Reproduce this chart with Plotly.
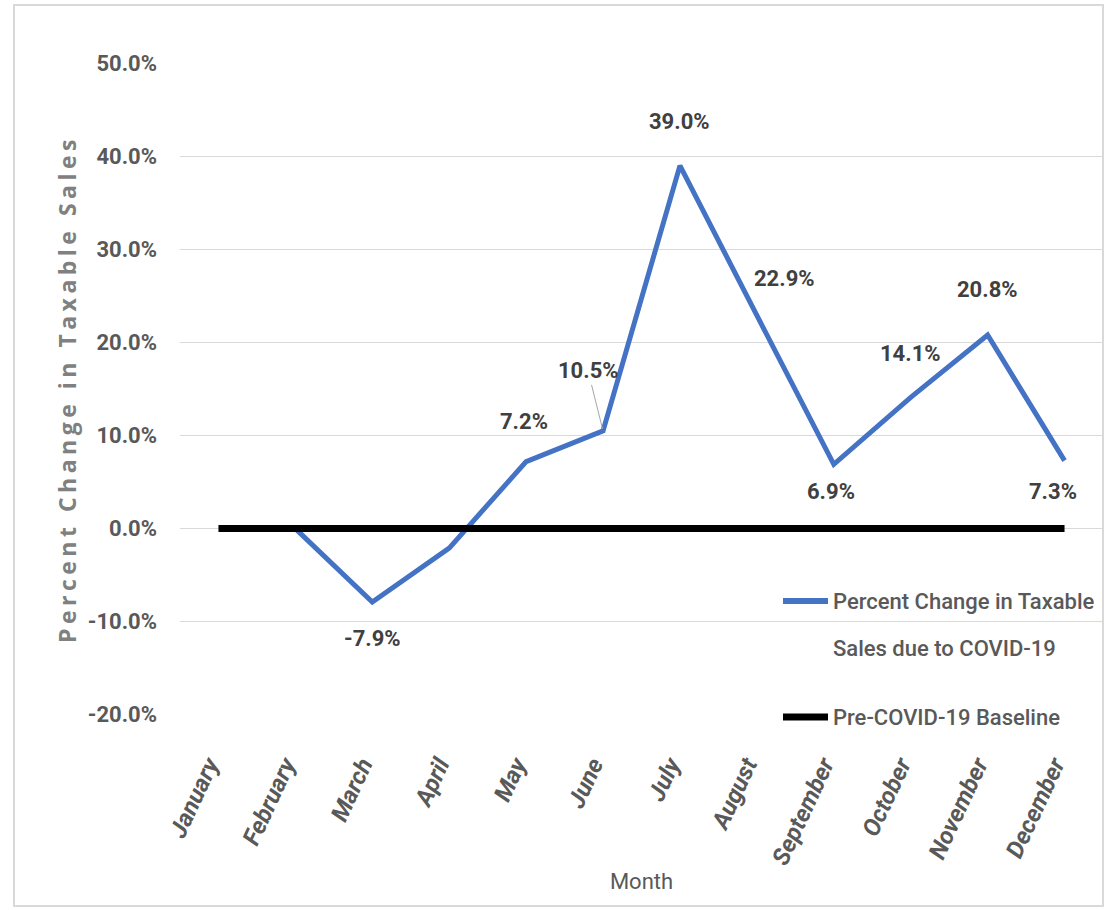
import plotly.graph_objects as go

# Monthly data
months = ["January", "February", "March", "April", "May", "June",
          "July", "August", "September", "October", "November", "December"]
pct_change = [None, 0.0, -7.9, -2.1, 7.2, 10.5, 39.0, 22.9, 6.9, 14.1, 20.8, 7.3]
baseline = [0.0] * 12
y_ticks = [50, 40, 30, 20, 10, 0, -10, -20]

series_names = ["Percent Change in Taxable<br>Sales due to COVID-19",
                "Pre-COVID-19 Baseline"]

# Label placement (pixel offsets from each point)
label_offsets = {
    "March": (0, -36),
    "May": (-2, 40),
    "July": (0, 44),
    "August": (28, 37),
    "September": (-3, -27),
    "October": (0, 44),
    "November": (0, 46),
    "December": (-12, -31),
}
leader_labels = {"June": (-15, -60)}  # label joined to its point by a thin line

FONT = "Roboto, sans-serif"
GREY = "#595959"
BLUE = "#4472C4"

# plot-area geometry (px)
W, H = 1105, 910
ML, MR, MT, MB = 180, 2, 63, 195
PW, PH = W - ML - MR, H - MT - MB


def px_x(px):
    return (px - ML) / PW


def px_y(py):
    return (H - MB - py) / PH


fig = go.Figure()
fig.add_trace(go.Scatter(
    x=months, y=pct_change, mode="lines", name=series_names[0],
    line=dict(color=BLUE, width=5), showlegend=False,
))
fig.add_trace(go.Scatter(
    x=months, y=baseline, mode="lines", name=series_names[1],
    line=dict(color="#000000", width=7), showlegend=False,
))

label_font = dict(family=FONT, size=22, color="#404040")
for m, v in zip(months, pct_change):
    if v is None:
        continue
    if m in label_offsets:
        dx, dy = label_offsets[m]
        fig.add_annotation(x=m, y=v, text=f"<b>{v:.1f}%</b>", showarrow=False,
                           xshift=dx, yshift=dy, font=label_font)
    elif m in leader_labels:
        ax, ay = leader_labels[m]
        fig.add_annotation(x=m, y=v, text=f"<b>{v:.1f}%</b>", showarrow=True,
                           ax=ax, ay=ay, arrowhead=0, arrowwidth=1,
                           arrowcolor="#a6a6a6", standoff=2, font=label_font)

# Legend, drawn beside the lower right of the plot
legend_rows = [
    (BLUE, 6, series_names[0].split("<br>"), 601),
    ("#000000", 7, [series_names[1]], 717),
]
for color, width, lines, ypx in legend_rows:
    fig.add_shape(type="line", xref="paper", yref="paper",
                  x0=px_x(783), x1=px_x(828), y0=px_y(ypx), y1=px_y(ypx),
                  line=dict(color=color, width=width))
    for i, txt in enumerate(lines):
        fig.add_annotation(xref="paper", yref="paper", x=px_x(831),
                           y=px_y(ypx + 47 * i), xanchor="left", yanchor="middle",
                           text=txt, showarrow=False,
                           font=dict(family=FONT, size=22, color=GREY, weight=500))

fig.update_layout(
    width=W, height=H,
    margin=dict(l=ML, r=MR, t=MT, b=MB),
    paper_bgcolor="white", plot_bgcolor="white",
    showlegend=False,
    xaxis=dict(
        type="category", range=[-0.5, 11.5],
        showgrid=False, showline=False, ticks="",
        tickangle=-65, ticklabelstandoff=30, ticklabelshift=-10,
        tickfont=dict(family=FONT, size=24, color=GREY),
        title=dict(text="Month", standoff=4,
                   font=dict(family=FONT, size=22, color=GREY)),
    ),
    yaxis=dict(
        range=[-20.03, 50.03], tickvals=y_ticks,
        ticktext=[f"<b>{t:.1f}%</b>" for t in y_ticks],
        showgrid=True, gridcolor="#d9d9d9", gridwidth=1,
        zeroline=False, showline=False, ticks="", ticklabelstandoff=22,
        tickfont=dict(family=FONT, size=22, color=GREY),
        title=dict(
            text='<b><span style="letter-spacing:4.5px">'
                 'Percent Change in Taxable Sales</span></b>',
            standoff=4,
            font=dict(family="Open Sans, sans-serif", size=23, color="#808080"),
        ),
    ),
)
fig.update_xaxes(tickprefix="<i><b>", ticksuffix="</b></i>")

# Light chart-area border
fig.add_shape(type="rect", xref="paper", yref="paper",
              x0=px_x(14), x1=px_x(1103), y0=px_y(906), y1=px_y(5),
              line=dict(color="#d9d9d9", width=2), layer="below")

fig.write_html("out.html")
